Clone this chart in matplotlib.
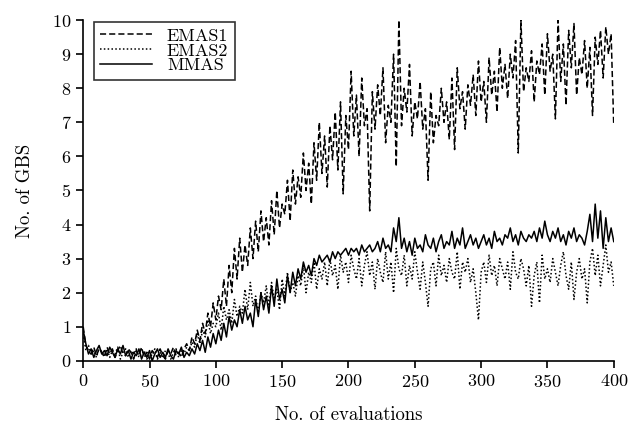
import numpy as np
import matplotlib
matplotlib.use("Agg")
import matplotlib.pyplot as plt

plt.rcParams['font.family'] = ['cmr10', 'DejaVu Serif']
plt.rcParams['axes.formatter.use_mathtext'] = True

# evaluations, sampled every 2
evals = np.arange(0, 401, 2)

emas1 = [
    1.0, 0.45, 0.3, 0.2, 0.4, 0.15, 0.35, 0.25, 0.1, 0.4,
    0.2, 0.35, 0.1, 0.3, 0.45, 0.2, 0.15, 0.35, 0.25, 0.05,
    0.3, 0.15, 0.4, 0.1, 0.25, 0.05, 0.3, 0.2, 0.1, 0.35,
    0.15, 0.05, 0.3, 0.2, 0.4, 0.15, 0.25, 0.1, 0.35, 0.5,
    0.3, 0.7, 0.5, 0.9, 0.6, 1.1, 0.8, 1.4, 1.0, 1.7,
    1.2, 1.9, 1.5, 2.4, 1.6, 2.8, 2.0, 3.3, 2.4, 3.6,
    2.6, 3.4, 2.8, 3.9, 3.0, 4.1, 3.2, 4.4, 3.5, 4.2,
    3.4, 4.7, 3.7, 5.0, 3.9, 4.6, 4.3, 5.3, 4.1, 5.6,
    4.6, 5.4, 4.8, 6.1, 5.0, 5.8, 4.6, 6.4, 5.3, 7.0,
    5.5, 6.6, 5.1, 6.9, 5.9, 7.3, 5.6, 7.6, 4.9, 7.2,
    6.2, 8.5, 6.6, 7.8, 6.0, 8.3, 6.9, 7.4, 4.4, 7.9,
    6.8, 8.1, 7.2, 8.6, 6.4, 7.5, 7.0, 9.0, 5.7, 10.0,
    6.9, 8.0, 7.3, 8.7, 6.6, 7.6, 7.1, 8.2, 6.8, 7.4,
    5.3, 7.9, 6.4, 7.2, 6.9, 8.0, 7.0, 7.6, 6.5, 8.3,
    6.2, 8.6, 7.4, 7.9, 6.8, 8.1, 7.5, 8.4, 7.2, 8.8,
    7.6, 8.2, 7.0, 8.9, 7.8, 8.5, 7.3, 9.2, 8.0, 8.7,
    7.7, 9.0, 8.3, 9.4, 6.1, 10.0, 7.9, 8.6, 8.2, 9.1,
    7.6, 8.8, 8.4, 9.3, 7.8, 9.6, 8.5, 9.0, 7.1, 10.0,
    8.2, 9.3, 7.5, 9.7, 8.6, 9.9, 7.8, 8.9, 8.4, 9.4,
    8.0, 9.2, 7.2, 9.5, 8.7, 9.7, 8.3, 9.8, 9.0, 9.6,
    6.9,
]

emas2 = [
    0.8, 0.3, 0.45, 0.2, 0.3, 0.1, 0.4, 0.25, 0.15, 0.35,
    0.1, 0.3, 0.2, 0.4, 0.05, 0.25, 0.35, 0.1, 0.3, 0.2,
    0.35, 0.1, 0.2, 0.3, 0.05, 0.2, 0.15, 0.35, 0.05, 0.25,
    0.1, 0.3, 0.2, 0.05, 0.25, 0.35, 0.1, 0.3, 0.2, 0.4,
    0.3, 0.55, 0.4, 0.8, 0.5, 0.9, 0.7, 1.2, 0.8, 1.1,
    1.0, 1.4, 0.9, 1.6, 1.2, 1.5, 1.1, 1.8, 1.3, 1.6,
    1.4, 2.1, 1.5, 2.3, 1.6, 1.9, 1.4, 2.0, 1.7, 2.2,
    1.6, 2.3, 1.8, 2.1, 1.5, 2.4, 1.9, 2.6, 2.0, 2.3,
    1.9, 2.5, 2.2, 2.8, 2.0, 2.6, 2.3, 2.9, 2.1, 2.7,
    2.4, 2.9, 2.2, 3.0, 2.5, 2.8, 2.1, 3.1, 2.6, 2.9,
    2.3, 3.1, 2.7, 2.4, 3.0, 2.2, 2.8, 3.2, 2.5, 2.9,
    2.1, 3.0, 2.6, 2.3, 3.2, 2.4, 2.9, 2.0, 3.3, 2.7,
    2.5, 3.1, 2.2, 2.8, 2.4, 3.2, 2.6, 2.1, 2.9, 2.3,
    1.6, 2.7, 2.9, 2.2, 3.1, 2.5, 2.8, 2.3, 3.0, 2.6,
    2.4, 3.2, 2.1, 2.9, 2.6, 3.0, 2.3, 2.7, 2.0, 1.2,
    2.6, 2.9, 2.3, 3.1, 2.5, 2.8, 2.2, 3.0, 2.7, 2.4,
    2.9, 2.1, 3.2, 2.6, 2.4, 3.0, 2.7, 2.2, 2.8, 1.6,
    2.5, 2.9, 1.7, 3.1, 2.4, 2.7, 2.3, 3.0, 2.6, 2.2,
    2.8, 3.2, 2.5, 2.1, 2.9, 1.8, 2.6, 3.0, 2.4, 2.7,
    1.7, 2.9, 3.3, 2.5, 3.1, 2.2, 2.8, 3.4, 2.6, 2.9,
    2.2,
]

mmas = [
    0.9, 0.5, 0.2, 0.35, 0.1, 0.3, 0.45, 0.2, 0.3, 0.15,
    0.4, 0.25, 0.1, 0.35, 0.2, 0.45, 0.15, 0.3, 0.05, 0.25,
    0.15, 0.35, 0.05, 0.25, 0.1, 0.3, 0.0, 0.2, 0.35, 0.1,
    0.25, 0.1, 0.35, 0.15, 0.05, 0.3, 0.2, 0.4, 0.1, 0.25,
    0.15, 0.35, 0.2, 0.5, 0.3, 0.6, 0.25, 0.7, 0.4, 0.8,
    0.5, 0.9, 0.6, 1.1, 0.7, 1.3, 0.9, 1.2, 1.0, 1.5,
    1.1, 1.6, 1.2, 1.4, 1.0, 1.8, 1.3, 2.0, 1.5, 1.9,
    1.4, 2.2, 1.6, 2.4, 1.8, 2.1, 1.7, 2.5, 2.0, 2.6,
    2.2, 2.7, 2.4, 2.9, 2.6, 2.8, 2.5, 3.0, 2.8, 3.1,
    2.9, 3.0, 3.1, 2.9, 3.2, 3.0, 3.2, 3.1, 3.2, 3.3,
    3.1, 3.3, 3.2, 3.3, 3.1, 3.4, 3.2, 3.3, 3.4, 3.2,
    3.3, 3.5, 3.2, 3.6, 3.3, 3.4, 3.2, 3.9, 3.5, 4.2,
    3.3, 3.6, 3.2, 3.5, 3.1, 3.6, 3.3, 3.4, 3.2, 3.7,
    3.4, 3.3, 3.6, 3.2, 3.5, 3.7, 3.3, 3.5, 3.4, 3.8,
    3.3, 3.6, 3.4, 3.9, 3.3, 3.5, 3.7, 3.4, 3.6, 3.3,
    3.5, 3.7, 3.4, 3.6, 3.3, 3.8, 3.5, 3.6, 3.4, 3.7,
    3.6, 3.9, 3.5, 3.7, 3.4, 3.8, 3.6, 3.5, 3.7, 3.6,
    3.8, 3.5, 3.9, 3.6, 4.1, 3.7, 3.5, 3.8, 3.6, 3.9,
    3.5, 3.7, 3.4, 3.8, 3.6, 3.9, 3.5, 3.7, 3.6, 3.4,
    3.8, 4.3, 3.5, 4.6, 3.6, 4.4, 3.3, 4.2, 3.5, 3.9,
    3.5,
]

fig = plt.figure(figsize=(6.4, 4.28), dpi=100)
ax = fig.add_axes([0.13, 0.157, 0.829, 0.796])

ax.plot(evals, emas1, color='black', lw=1.1, linestyle=(0, (4, 2)), label='EMAS1')
ax.plot(evals, emas2, color='black', lw=1.1, linestyle=(0, (1, 1.5)), label='EMAS2')
ax.plot(evals, mmas, color='black', lw=1.1, linestyle='-', label='MMAS')

ax.set_xlim(0, 400)
ax.set_ylim(0, 10)
ax.set_xticks(np.arange(0, 401, 50))
ax.set_yticks(np.arange(0, 11, 1))
ax.spines[['top', 'right']].set_visible(False)
ax.spines[['left', 'bottom']].set_linewidth(1.2)
ax.tick_params(direction='out', length=5, width=1.2, labelsize=13)

ax.set_xlabel('No. of evaluations', fontsize=13.5, labelpad=12)
ax.set_ylabel('No. of GBS', fontsize=13.5, labelpad=13)

leg = ax.legend(loc='upper left', bbox_to_anchor=(0.02, 0.995), fontsize=13,
                frameon=True, fancybox=False, edgecolor='black',
                handlelength=2.9, handletextpad=0.8, labelspacing=-0.05,
                borderpad=0.35, borderaxespad=0)
leg.get_frame().set_linewidth(1.2)

plt.savefig('out.png', dpi=100)
